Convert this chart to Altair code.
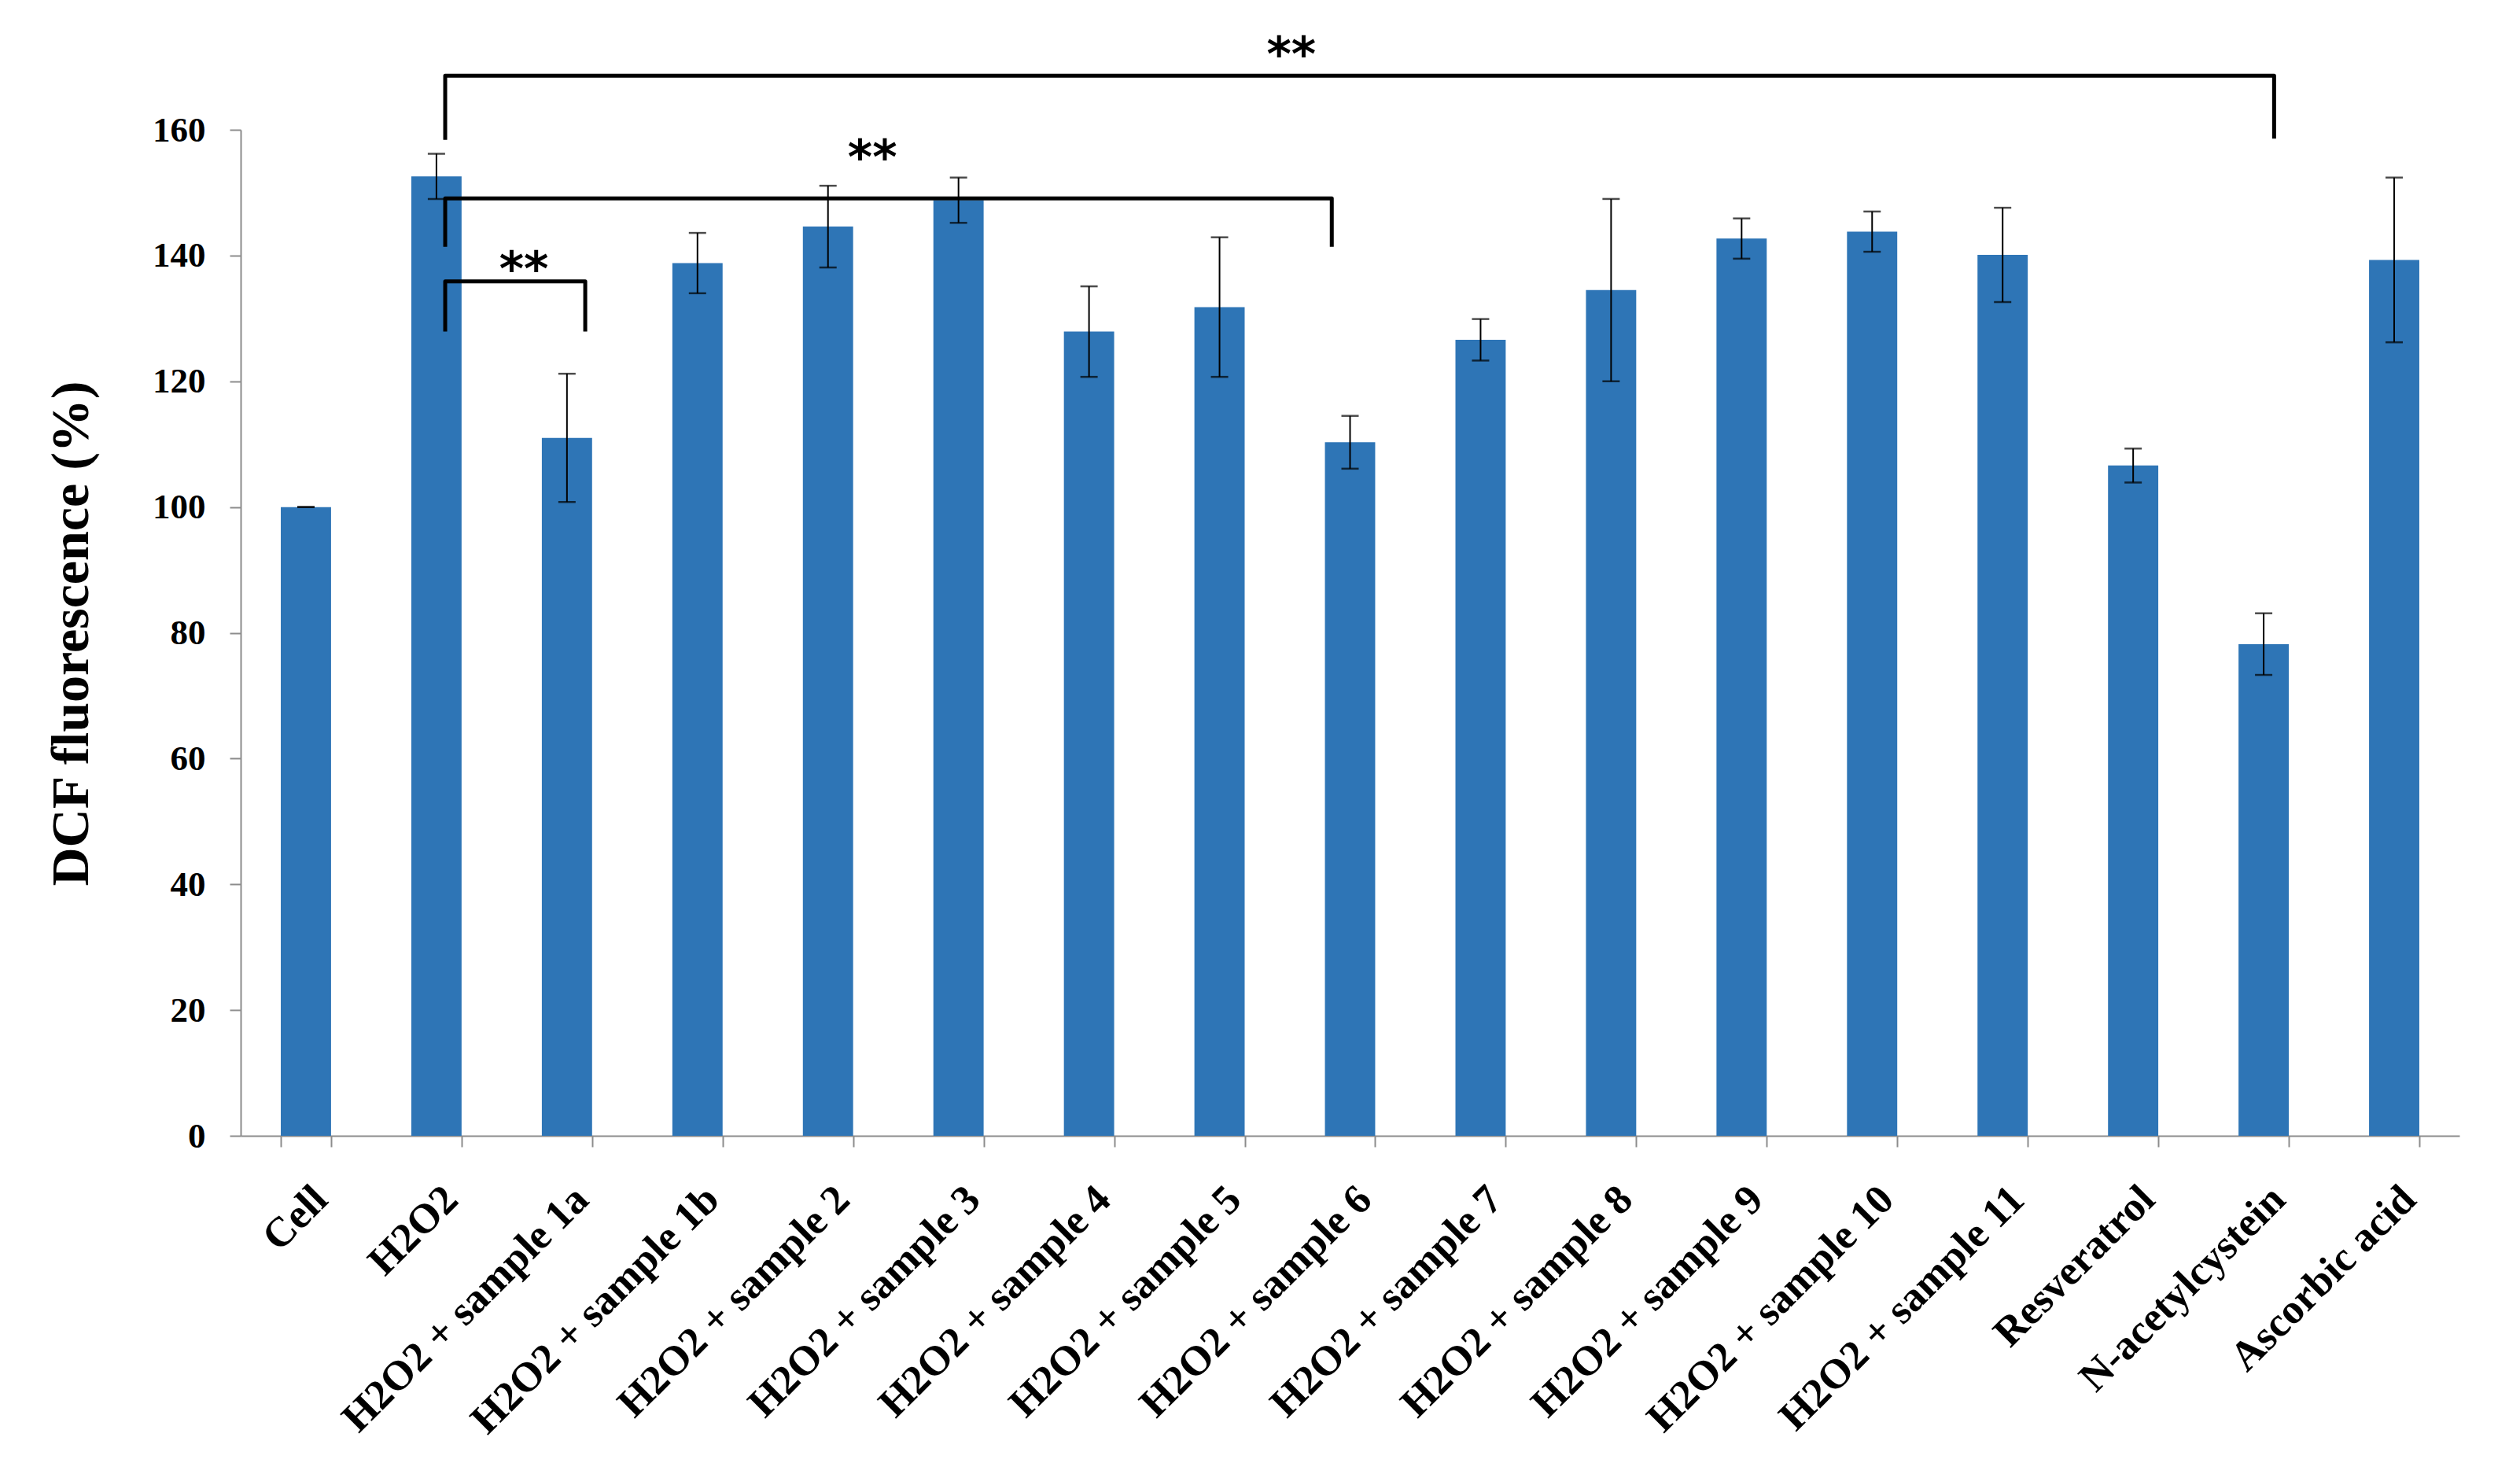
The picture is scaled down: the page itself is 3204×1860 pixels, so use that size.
import altair as alt
import pandas as pd

categories = [
    "Cell", "H2O2", "H2O2 + sample 1a", "H2O2 + sample 1b", "H2O2 + sample 2",
    "H2O2 + sample 3", "H2O2 + sample 4", "H2O2 + sample 5", "H2O2 + sample 6",
    "H2O2 + sample 7", "H2O2 + sample 8", "H2O2 + sample 9", "H2O2 + sample 10",
    "H2O2 + sample 11", "Resveratrol", "N-acetylcystein", "Ascorbic acid",
]
means = [100.0, 152.6, 111.0, 138.8, 144.6, 148.8, 127.9, 131.8, 110.3,
         126.6, 134.5, 142.7, 143.8, 140.1, 106.6, 78.2, 139.3]
errors = [0.0, 3.6, 10.2, 4.8, 6.5, 3.6, 7.2, 11.1, 4.2,
          3.3, 14.5, 3.2, 3.2, 7.5, 2.7, 4.9, 13.1]

# significance brackets, x in category units (0 = left edge of first category)
bracket_left = [1.567, 1.567, 1.567]
bracket_right = [15.58, 8.36, 2.64]
bracket_top = [168.6, 149.1, 135.9]
leg_left_bottom = [158.4, 141.4, 127.9]
leg_right_bottom = [158.6, 141.4, 127.9]
star_pos = [8.05, 4.84, 2.17]
star_y = [173.5, 157.1, 139.4]
star_text = ["**", "**", "**"]

df = pd.DataFrame({"cat": categories, "mean": means, "err": errors})
df["lower"] = df["mean"] - df["err"]
df["upper"] = df["mean"] + df["err"]

rows = []
for i in range(len(bracket_left)):
    pts = [(bracket_left[i], leg_left_bottom[i]), (bracket_left[i], bracket_top[i]),
           (bracket_right[i], bracket_top[i]), (bracket_right[i], leg_right_bottom[i])]
    for k, (px, py) in enumerate(pts):
        rows.append({"bid": i, "k": k, "px": px, "py": py})
bdf = pd.DataFrame(rows)
sdf = pd.DataFrame({"px": star_pos, "py": star_y, "t": star_text})

n = len(categories)
serif = "Liberation Serif"
grey = "#8c8c8c"

yscale = alt.Scale(domain=[0, 160], nice=False, zero=True)
xaxis = alt.Axis(
    title=None, labelAngle=-45, labelAlign="right", labelBaseline="top",
    labelFont=serif, labelFontWeight="bold", labelFontSize=53, labelColor="black",
    labelLimit=2000, labelOverlap=False, labelPadding=40,
    tickBand="extent", tickSize=14, tickColor=grey, tickWidth=2,
    domainColor=grey, domainWidth=2, orient="bottom",
)
xband = alt.X("cat:N", sort=categories,
              scale=alt.Scale(paddingInner=0.615, paddingOuter=0.3075), axis=xaxis)

yaxis = alt.Axis(
    values=list(range(0, 161, 20)), grid=False, title="DCF fluorescence (%)",
    titleFont=serif, titleFontSize=68, titleFontWeight="bold", titleColor="black",
    titleX=-181, titleY=640,
    labelFont=serif, labelFontWeight="bold", labelFontSize=45, labelColor="black",
    labelPadding=31, tickSize=14, tickColor=grey, tickWidth=2,
    domainColor=grey, domainWidth=2,
)

bars = alt.Chart(df).mark_bar(color="#2E75B6").encode(
    x=xband, y=alt.Y("mean:Q", scale=yscale, axis=yaxis)
)
rules = alt.Chart(df).mark_rule(color="black", strokeWidth=2).encode(
    x=xband, y=alt.Y("lower:Q", scale=yscale, axis=yaxis), y2="upper:Q"
)
cap_up = alt.Chart(df).mark_tick(color="black", thickness=2.5, size=22).encode(
    x=xband, y=alt.Y("upper:Q", scale=yscale, axis=yaxis)
)
cap_lo = alt.Chart(df).mark_tick(color="black", thickness=2.5, size=22).encode(
    x=xband, y=alt.Y("lower:Q", scale=yscale, axis=yaxis)
)
base = alt.layer(bars, rules, cap_up, cap_lo)

xq = alt.X("px:Q", scale=alt.Scale(domain=[0, n], nice=False, zero=False), axis=None)
lines = alt.Chart(bdf).mark_line(color="black", strokeWidth=5, strokeJoin="round").encode(
    x=xq, y=alt.Y("py:Q", scale=yscale, axis=yaxis), detail="bid:N", order="k:O"
)
stars = alt.Chart(sdf).mark_text(
    font="DejaVu Sans", fontWeight="bold", fontSize=60, color="black",
    baseline="middle", dy=15
).encode(x=xq, y=alt.Y("py:Q", scale=yscale, axis=yaxis), text="t:N")
annot = alt.layer(lines, stars)

chart = alt.layer(base, annot).resolve_scale(x="independent").properties(
    width=2821, height=1279,
    background="white",
    autosize=alt.AutoSizeParams(type="none"),
    padding={"left": 298, "top": 157, "right": 60, "bottom": 410},
).configure_view(stroke=None)

chart.save("out.html", embed_options={"renderer": "svg", "actions": False})
